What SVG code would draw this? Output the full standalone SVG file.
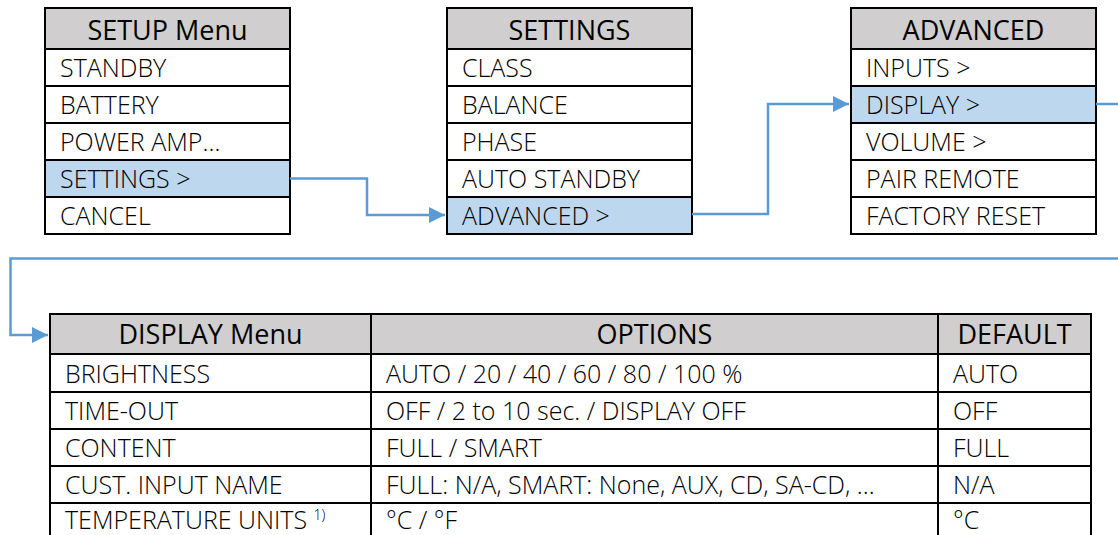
<svg xmlns="http://www.w3.org/2000/svg" width="1118" height="535" viewBox="0 0 1118 535">
<defs>
<style>
.hdr{fill:#D0CECE}
.sel{fill:#BDD7EE}
.cell{fill:#FFFFFF}
.grid{fill:none;stroke:#000;stroke-width:2}
.ht{font-family:"Open Sans","Liberation Sans",sans-serif;font-size:27px;font-weight:400;fill:#000;text-anchor:middle}
.it{font-family:"Open Sans","Liberation Sans",sans-serif;font-size:25px;font-weight:300;fill:#000}
.sup{font-family:"Open Sans","Liberation Sans",sans-serif;font-size:14px;font-weight:300;fill:#000}
.conn{fill:none;stroke:#5B9BD5;stroke-width:2.5}
</style>
<marker id="arr" markerUnits="userSpaceOnUse" markerWidth="16" markerHeight="16" refX="16" refY="8" orient="auto">
<path d="M0,0 L16,8 L0,16 Z" fill="#5B9BD5"/>
</marker>
</defs>
<rect width="1118" height="535" fill="#FFFFFF"/>

<g id="setup-menu">
<rect class="hdr" x="45" y="8" width="245" height="41"/>
<rect class="cell" x="45" y="49" width="245" height="111"/>
<rect class="sel" x="45" y="160" width="245" height="37"/>
<rect class="cell" x="45" y="197" width="245" height="37"/>
<path class="grid" d="M45,8 H290 V234 H45 Z M45,49 H290 M45,86 H290 M45,123 H290 M45,160 H290 M45,197 H290"/>
<text class="ht" x="167.5" y="40">SETUP Menu</text>
<text class="it" x="60" y="77">STANDBY</text>
<text class="it" x="60" y="114">BATTERY</text>
<text class="it" x="60" y="151">POWER AMP…</text>
<text class="it" x="60" y="188">SETTINGS &gt;</text>
<text class="it" x="60" y="225">CANCEL</text>
</g>

<g id="settings-menu">
<rect class="hdr" x="447" y="8" width="245" height="41"/>
<rect class="cell" x="447" y="49" width="245" height="148"/>
<rect class="sel" x="447" y="197" width="245" height="37"/>
<path class="grid" d="M447,8 H692 V234 H447 Z M447,49 H692 M447,86 H692 M447,123 H692 M447,160 H692 M447,197 H692"/>
<text class="ht" x="569.5" y="40">SETTINGS</text>
<text class="it" x="462" y="77">CLASS</text>
<text class="it" x="462" y="114">BALANCE</text>
<text class="it" x="462" y="151">PHASE</text>
<text class="it" x="462" y="188">AUTO STANDBY</text>
<text class="it" x="462" y="225">ADVANCED &gt;</text>
</g>

<g id="advanced-menu">
<rect class="hdr" x="851" y="8" width="245" height="41"/>
<rect class="cell" x="851" y="49" width="245" height="185"/>
<rect class="sel" x="851" y="86" width="245" height="37"/>
<path class="grid" d="M851,8 H1096 V234 H851 Z M851,49 H1096 M851,86 H1096 M851,123 H1096 M851,160 H1096 M851,197 H1096"/>
<text class="ht" x="973.5" y="40">ADVANCED</text>
<text class="it" x="866" y="77">INPUTS &gt;</text>
<text class="it" x="866" y="114">DISPLAY &gt;</text>
<text class="it" x="866" y="151">VOLUME &gt;</text>
<text class="it" x="866" y="188">PAIR REMOTE</text>
<text class="it" x="866" y="225">FACTORY RESET</text>
</g>

<g id="display-table">
<rect class="hdr" x="50" y="314" width="1041" height="40"/>
<rect class="cell" x="50" y="354" width="1041" height="190"/>
<path class="grid" d="M50,545 V314 H1091 V545 M371,314 V545 M938,314 V545 M50,354 H1091 M50,392 H1091 M50,429 H1091 M50,466 H1091 M50,503 H1091"/>
<text class="ht" x="210.5" y="344">DISPLAY Menu</text>
<text class="ht" x="654.5" y="344">OPTIONS</text>
<text class="ht" x="1014.5" y="344">DEFAULT</text>
<text class="it" x="65" y="383">BRIGHTNESS</text>
<text class="it" x="386" y="383">AUTO / 20 / 40 / 60 / 80 / 100 %</text>
<text class="it" x="953" y="383">AUTO</text>
<text class="it" x="65" y="420">TIME-OUT</text>
<text class="it" x="386" y="420">OFF / 2 to 10 sec. / DISPLAY OFF</text>
<text class="it" x="953" y="420">OFF</text>
<text class="it" x="65" y="457">CONTENT</text>
<text class="it" x="386" y="457">FULL / SMART</text>
<text class="it" x="953" y="457">FULL</text>
<text class="it" x="65" y="494">CUST. INPUT NAME</text>
<text class="it" x="386" y="494">FULL: N/A, SMART: None, AUX, CD, SA-CD, …</text>
<text class="it" x="953" y="494">N/A</text>
<text class="it" x="65" y="529">TEMPERATURE UNITS <tspan class="sup" dy="-9">1)</tspan></text>
<text class="it" x="386" y="529">°C / °F</text>
<text class="it" x="953" y="529">°C</text>
</g>

<g id="connectors">
<path class="conn" d="M290,178.5 H367 V215 H445" marker-end="url(#arr)"/>
<path class="conn" d="M692,214 H768 V104 H849" marker-end="url(#arr)"/>
<path class="conn" d="M1096,104 H1130 V258.5 H10.5 V335 H48" marker-end="url(#arr)"/>
</g>
</svg>
